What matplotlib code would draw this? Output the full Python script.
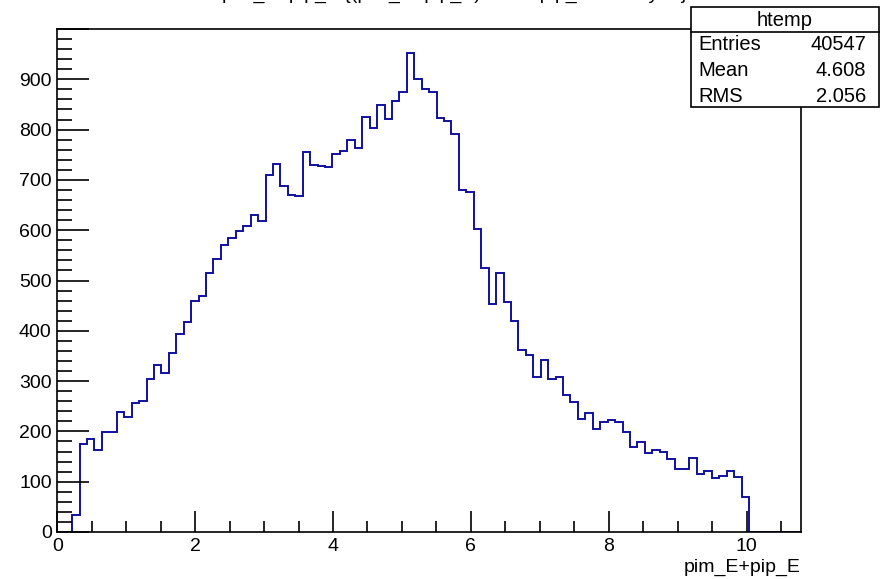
import numpy as np
import matplotlib
matplotlib.use('Agg')
import matplotlib.pyplot as plt
from matplotlib.patches import Rectangle
from matplotlib.ticker import MultipleLocator

plt.rcParams['font.family'] = ['Liberation Sans', 'DejaVu Sans']

# histogram contents, 100 bins from 0 to x_max
counts = [0, 0, 34, 174, 184, 163, 199, 199, 238, 228,
          257, 260, 304, 333, 317, 356, 394, 417, 459, 470,
          515, 543, 571, 584, 599, 609, 630, 619, 710, 732,
          688, 670, 668, 756, 730, 728, 725, 752, 758, 779,
          764, 826, 803, 848, 821, 856, 875, 952, 900, 880,
          874, 824, 817, 791, 679, 676, 602, 525, 453, 514,
          457, 420, 361, 352, 309, 342, 305, 309, 273, 258,
          225, 237, 205, 219, 223, 218, 198, 169, 179, 158,
          164, 160, 146, 126, 125, 148, 115, 121, 107, 111,
          121, 109, 70, 0, 0, 0, 0, 0, 0, 0]
x_max = 10.79
n_bins = 100

hist_name = 'htemp'
stat_names = ['Entries', 'Mean', 'RMS']
stat_values = ['40547', '4.608', '2.056']
x_title = 'pim_E+pip_E'
plot_title = 'pim_E+pip_E {(pim_E+pip_E)>0 && pip_E>0 && y>0}'

W, H = 882, 579
fig = plt.figure(figsize=(W / 100, H / 100), dpi=100)
ax = fig.add_axes([57.3 / W, 1 - 532 / H, (801 - 57.3) / W, (532 - 29) / H])

edges = np.linspace(0, x_max, n_bins + 1)
ax.stairs(counts, edges, color='#10109c', linewidth=1.4, zorder=1)

ax.set_xlim(0, x_max)
ax.set_ylim(0, 1000)
ax.xaxis.set_major_locator(MultipleLocator(2))
ax.xaxis.set_minor_locator(MultipleLocator(0.5))
ax.yaxis.set_major_locator(MultipleLocator(100))
ax.yaxis.set_minor_locator(MultipleLocator(20))
ax.yaxis.set_major_formatter(lambda v, p: '%d' % v if v < 1000 else '')

ax.tick_params(axis='x', which='major', direction='in', length=15, width=1.2,
               labelsize=14, pad=4, top=False)
ax.tick_params(axis='x', which='minor', direction='in', length=8, width=1.2, top=False)
ax.tick_params(axis='y', which='major', direction='in', length=23, width=1.2,
               labelsize=14, pad=4, right=False)
ax.tick_params(axis='y', which='minor', direction='in', length=11, width=1.2, right=False)
for s in ax.spines.values():
    s.set_linewidth(1.2)
    s.set_zorder(3)

fig.text(801 / W, 1 - 567 / H, x_title, ha='right', va='center', fontsize=14)

# title, mostly cut off by the top edge of the canvas
fig.text(0.515, 1 + 1.0 / H, plot_title, ha='center', va='baseline', fontsize=14)

# stats box
bx0, bx1, by0, by1 = 691, 879, 7, 107
fig.patches.append(Rectangle((bx0 / W, 1 - by1 / H), (bx1 - bx0) / W, (by1 - by0) / H,
                             transform=fig.transFigure, facecolor='white',
                             edgecolor='black', linewidth=1.2, zorder=5))
fig.lines.append(plt.Line2D([bx0 / W, bx1 / W], [1 - 32 / H, 1 - 32 / H],
                            transform=fig.transFigure, color='black', linewidth=1.2, zorder=6))
fig.text((bx0 + bx1) / 2 / W, 1 - 20 / H, hist_name, ha='center', va='center',
         fontsize=14.5, zorder=7)
for i, (name, val) in enumerate(zip(stat_names, stat_values)):
    yy = 1 - (45 + 25.5 * i) / H
    fig.text(698 / W, yy, name, ha='left', va='center', fontsize=14.5, zorder=7)
    fig.text(866 / W, yy, val, ha='right', va='center', fontsize=14.5, zorder=7)

fig.savefig('out.png', dpi=100)
